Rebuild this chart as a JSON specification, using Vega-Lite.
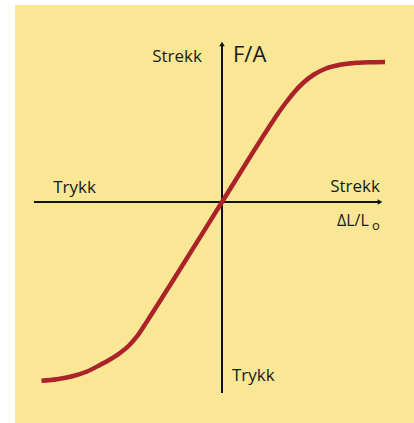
{
  "$schema": "https://vega.github.io/schema/vega-lite/v6.json",
  "autosize": {"type": "fit", "contains": "padding"},
  "width": 414,
  "height": 423,
  "padding": 0,
  "background": "white",
  "config": {"view": {"stroke": null}},
  "datasets": {
    "bg": [{"x1": -207, "x2": 192, "y1": 197, "y2": -221}],
    "axes": [
      {"x1": -188, "x2": 158, "y1": 0, "y2": 0},
      {"x1": 0, "x2": 0, "y1": -191, "y2": 158}
    ],
    "arrows": [
      {"u": 158, "v": 0, "shape": "triangle-right"},
      {"u": 0, "v": 158, "shape": "triangle-up"}
    ],
    "curve": [
      {"i": 0, "u": -180.5, "v": -178.8},
      {"i": 1, "u": -165, "v": -177.3},
      {"i": 2, "u": -148.7, "v": -174},
      {"i": 3, "u": -135, "v": -169.5},
      {"i": 4, "u": -122, "v": -163},
      {"i": 5, "u": -112, "v": -157.5},
      {"i": 6, "u": -102, "v": -151},
      {"i": 7, "u": -93, "v": -143.5},
      {"i": 8, "u": -85.3, "v": -134.7},
      {"i": 9, "u": -78, "v": -124},
      {"i": 10, "u": -72, "v": -114.7},
      {"i": 11, "u": -48.7, "v": -78},
      {"i": 12, "u": 0, "v": 0},
      {"i": 13, "u": 40, "v": 64},
      {"i": 14, "u": 50, "v": 79.5},
      {"i": 15, "u": 57, "v": 90},
      {"i": 16, "u": 64, "v": 99.5},
      {"i": 17, "u": 72, "v": 109.5},
      {"i": 18, "u": 81, "v": 119},
      {"i": 19, "u": 92, "v": 127.5},
      {"i": 20, "u": 104, "v": 133.5},
      {"i": 21, "u": 118, "v": 137.2},
      {"i": 22, "u": 135, "v": 139.2},
      {"i": 23, "u": 150, "v": 139.8},
      {"i": 24, "u": 163, "v": 140}
    ],
    "labelsC": [
      {"t": "Strekk", "u": -45, "v": 140, "s": 17},
      {"t": "Trykk", "u": -147.5, "v": 9, "s": 17},
      {"t": "Strekk", "u": 133, "v": 10, "s": 17}
    ],
    "labelsL": [
      {"t": "F/A", "u": 11, "v": 140, "s": 22},
      {"t": "Trykk", "u": 10, "v": -179, "s": 17},
      {"t": "ΔL/L", "u": 115, "v": -24, "s": 16},
      {"t": "o", "u": 150, "v": -28, "s": 13}
    ]
  },
  "layer": [
    {
      "data": {"name": "bg"},
      "mark": {"type": "rect", "color": "#F9E796"},
      "encoding": {
        "x": {"field": "x1", "type": "quantitative", "scale": {"domain": [-222, 192], "nice": false, "zero": false}, "axis": null},
        "x2": {"field": "x2"},
        "y": {"field": "y1", "type": "quantitative", "scale": {"domain": [-221, 202], "nice": false, "zero": false}, "axis": null},
        "y2": {"field": "y2"}
      }
    },
    {
      "data": {"name": "axes"},
      "mark": {"type": "rule", "color": "#111111", "strokeWidth": 2},
      "encoding": {
        "x": {"field": "x1", "type": "quantitative"},
        "x2": {"field": "x2"},
        "y": {"field": "y1", "type": "quantitative"},
        "y2": {"field": "y2"}
      }
    },
    {
      "data": {"name": "arrows"},
      "mark": {"type": "point", "filled": true, "color": "#111111", "size": 30, "opacity": 1},
      "encoding": {
        "x": {"field": "u", "type": "quantitative"},
        "y": {"field": "v", "type": "quantitative"},
        "shape": {"field": "shape", "type": "nominal", "scale": null, "legend": null}
      }
    },
    {
      "data": {"name": "curve"},
      "mark": {"type": "line", "color": "#AB2229", "strokeWidth": 4.5, "interpolate": "monotone"},
      "encoding": {
        "x": {"field": "u", "type": "quantitative"},
        "y": {"field": "v", "type": "quantitative"},
        "order": {"field": "i", "type": "quantitative"}
      }
    },
    {
      "data": {"name": "labelsC"},
      "mark": {"type": "text", "font": "Open Sans", "color": "#1a1a1a", "baseline": "alphabetic", "align": "center"},
      "encoding": {
        "x": {"field": "u", "type": "quantitative"},
        "y": {"field": "v", "type": "quantitative"},
        "text": {"field": "t", "type": "nominal"},
        "size": {"field": "s", "type": "quantitative", "scale": null, "legend": null}
      }
    },
    {
      "data": {"name": "labelsL"},
      "mark": {"type": "text", "font": "Open Sans", "color": "#1a1a1a", "baseline": "alphabetic", "align": "left"},
      "encoding": {
        "x": {"field": "u", "type": "quantitative"},
        "y": {"field": "v", "type": "quantitative"},
        "text": {"field": "t", "type": "nominal"},
        "size": {"field": "s", "type": "quantitative", "scale": null, "legend": null}
      }
    }
  ]
}
